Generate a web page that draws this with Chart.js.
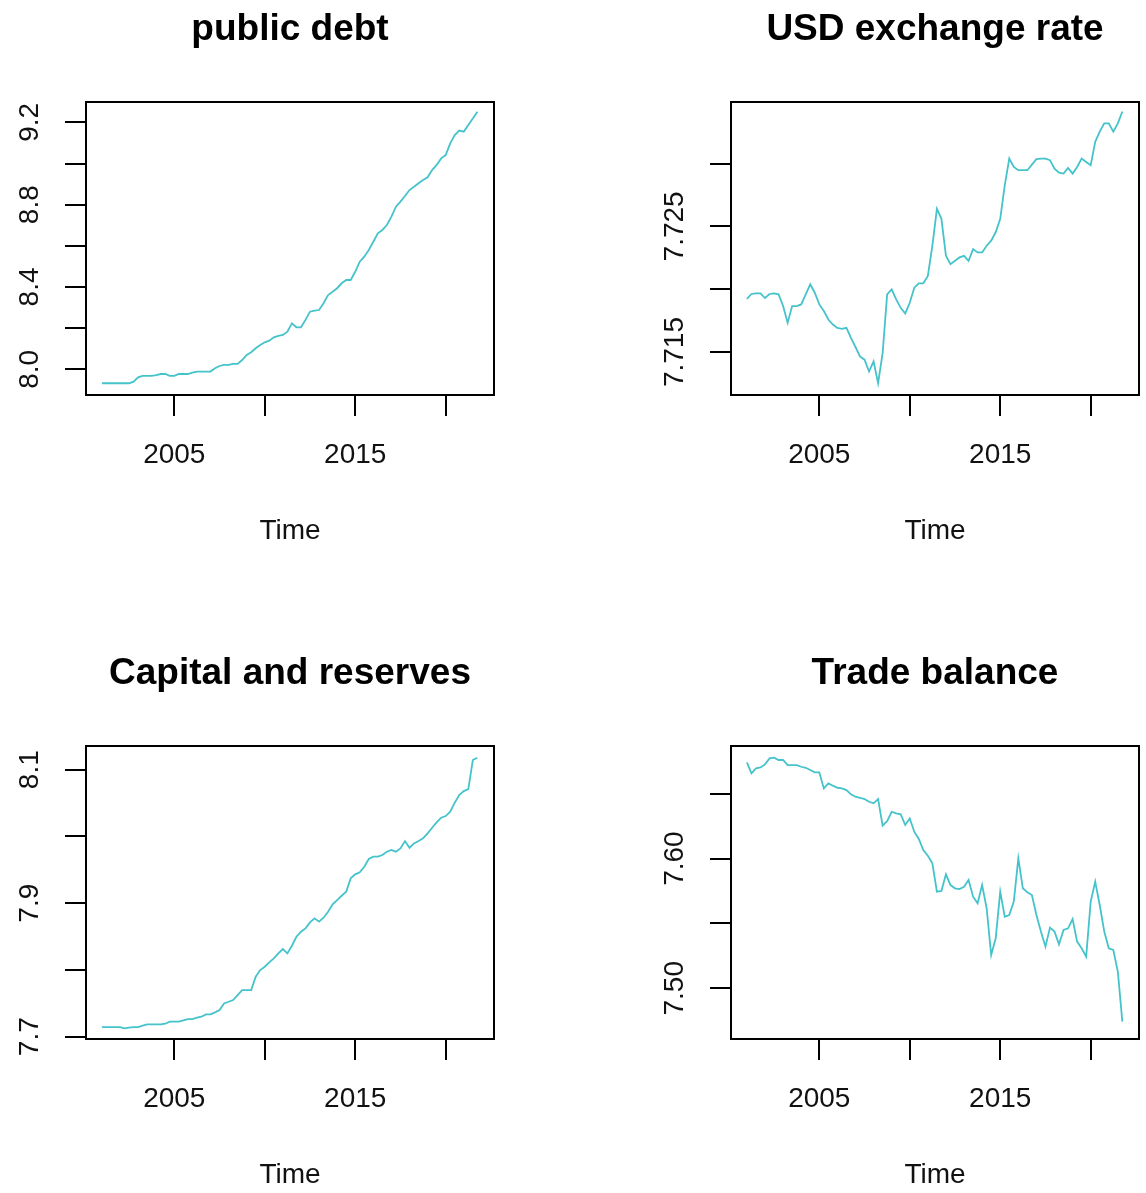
<!DOCTYPE html>
<html>
<head>
<meta charset="utf-8">
<title>Macro series</title>
<script src="https://cdn.jsdelivr.net/npm/chart.js@4.4.0/dist/chart.umd.min.js"></script>
<style>
  html, body { margin: 0; padding: 0; background: #fff; }
  #panels { position: relative; width: 1146px; height: 1193px; background: #fff; }
  .panel { position: absolute; width: 501px; height: 549px; }
</style>
</head>
<body>
<div id="panels">
  <div class="panel" style="left:0;top:0"><canvas id="debtChart" width="501" height="549"></canvas></div>
  <div class="panel" style="left:645px;top:0"><canvas id="usdChart" width="501" height="549"></canvas></div>
  <div class="panel" style="left:0;top:644px"><canvas id="capitalChart" width="501" height="549"></canvas></div>
  <div class="panel" style="left:645px;top:644px"><canvas id="tradeChart" width="501" height="549"></canvas></div>
</div>
<script>
// quarterly observations, 2001 Q1 .. 2021 Q4
const firstYear = 2001;
const lastYear = 2021;

const publicDebt = [
  7.932, 7.932, 7.932, 7.932,  7.932, 7.932, 7.932, 7.940,
  7.961, 7.968, 7.968, 7.968,  7.972, 7.977, 7.977, 7.968,
  7.968, 7.977, 7.977, 7.977,  7.984, 7.989, 7.989, 7.989,
  7.989, 8.005, 8.016, 8.021,  8.021, 8.026, 8.026, 8.045,
  8.070, 8.083, 8.102, 8.118,  8.131, 8.139, 8.155, 8.162,
  8.167, 8.183, 8.223, 8.204,  8.204, 8.240, 8.280, 8.285,
  8.288, 8.321, 8.361, 8.377,  8.394, 8.418, 8.434, 8.434,
  8.474, 8.523, 8.547, 8.580,  8.620, 8.661, 8.677, 8.701,
  8.742, 8.790, 8.815, 8.842,  8.871, 8.887, 8.904, 8.920,
  8.933, 8.968, 8.993, 9.025,  9.041, 9.098, 9.138, 9.160,
  9.155, 9.187, 9.219, 9.252
];

const usdRate = [
  7.71924, 7.71962, 7.71967, 7.71967,  7.71930, 7.71962, 7.71967, 7.71959,
  7.71866, 7.71732, 7.71866, 7.71866,  7.71879, 7.71959, 7.72039, 7.71972,
  7.71879, 7.71826, 7.71759, 7.71719,  7.71692, 7.71684, 7.71692, 7.71612,
  7.71540, 7.71465, 7.71439, 7.71345,  7.71425, 7.71252, 7.71492, 7.71959,
  7.71999, 7.71919, 7.71852, 7.71807,  7.71892, 7.72012, 7.72047, 7.72047,
  7.72106, 7.72346, 7.72640, 7.72560,  7.72266, 7.72199, 7.72226, 7.72253,
  7.72266, 7.72226, 7.72319, 7.72293,  7.72293, 7.72346, 7.72386, 7.72453,
  7.72560, 7.72827, 7.73040, 7.72973,  7.72947, 7.72947, 7.72947, 7.72992,
  7.73035, 7.73040, 7.73040, 7.73027,  7.72960, 7.72928, 7.72920, 7.72965,
  7.72920, 7.72973, 7.73040, 7.73013,  7.72987, 7.73173, 7.73254, 7.73320,
  7.73320, 7.73254, 7.73320, 7.73414
];

const capitalReserves = [
  7.7145, 7.7145, 7.7145, 7.7145,  7.7145, 7.7125, 7.7135, 7.7145,
  7.7145, 7.7165, 7.7185, 7.7185,  7.7185, 7.7185, 7.7195, 7.7225,
  7.7225, 7.7225, 7.7245, 7.7265,  7.7265, 7.7285, 7.7300, 7.7335,
  7.7335, 7.7365, 7.7400, 7.7499,  7.7524, 7.7549, 7.7624, 7.7699,
  7.7699, 7.7699, 7.7899, 7.7999,  7.8049, 7.8114, 7.8174, 7.8248,
  7.8313, 7.8248, 7.8363, 7.8498,  7.8573, 7.8623, 7.8713, 7.8773,
  7.8723, 7.8783, 7.8873, 7.8983,  7.9047, 7.9112, 7.9172, 7.9372,
  7.9432, 7.9462, 7.9547, 7.9662,  7.9697, 7.9697, 7.9722, 7.9772,
  7.9797, 7.9772, 7.9821, 7.9931,  7.9831, 7.9896, 7.9931, 7.9971,
  8.0046, 8.0131, 8.0211, 8.0281,  8.0306, 8.0371, 8.0506, 8.0620,
  8.0680, 8.0710, 8.1145, 8.1180
];

const tradeBalance = [
  7.6742, 7.6657, 7.6695, 7.6703,  7.6726, 7.6772, 7.6778, 7.6760,
  7.6760, 7.6721, 7.6721, 7.6721,  7.6708, 7.6700, 7.6683, 7.6665,
  7.6665, 7.6541, 7.6580, 7.6562,  7.6546, 7.6541, 7.6528, 7.6495,
  7.6477, 7.6469, 7.6459, 7.6438,  7.6426, 7.6459, 7.6254, 7.6289,
  7.6361, 7.6349, 7.6341, 7.6259,  7.6310, 7.6207, 7.6151, 7.6066,
  7.6022, 7.5963, 7.5745, 7.5750,  7.5879, 7.5796, 7.5771, 7.5765,
  7.5783, 7.5835, 7.5706, 7.5655,  7.5796, 7.5617, 7.5257, 7.5385,
  7.5745, 7.5552, 7.5565, 7.5668,  7.6002, 7.5771, 7.5740, 7.5719,
  7.5565, 7.5437, 7.5321, 7.5468,  7.5437, 7.5339, 7.5450, 7.5462,
  7.5534, 7.5360, 7.5308, 7.5244,  7.5668, 7.5822, 7.5642, 7.5437,
  7.5308, 7.5295, 7.5128, 7.4743
];

// tick labels that get printed (the rest are bare tick marks)
const timeTickLabels = ['2005', '2015'];
const debtTickLabels = ['8.0', '8.4', '8.8', '9.2'];
const usdTickLabels = ['7.715', '7.725'];
const capitalTickLabels = ['7.7', '7.9', '8.1'];
const tradeTickLabels = ['7.50', '7.60'];

const quarters = [];
for (let y = firstYear; y <= lastYear; y++) {
  for (let q = 0; q < 4; q++) quarters.push(y + q / 4);
}

const FONT = '"Liberation Sans", Arial, Helvetica, sans-serif';
const LINE_COLOR = '#45c3cb';
const INK = '#111';
const TICK_LEN = 21;
const LABEL_SIZE = 28;

Chart.defaults.font.family = FONT;
Chart.defaults.color = INK;

// plain box around the plotting region
const frameBox = {
  id: 'frameBox',
  afterDraw(chart) {
    const { ctx, chartArea: a } = chart;
    ctx.save();
    ctx.strokeStyle = '#000';
    ctx.lineWidth = 2;
    ctx.strokeRect(a.left, a.top, a.right - a.left, a.bottom - a.top);
    ctx.restore();
  }
};

const measureCtx = document.createElement('canvas').getContext('2d');
function labelWidth(labels) {
  measureCtx.font = 'normal ' + LABEL_SIZE + 'px ' + FONT;
  return Math.max(...labels.map(l => measureCtx.measureText(l).width));
}

function makePanel(id, title, values, yRange, yStep, yLabels, decimals) {
  // rotated y labels are centred 56px left of the box
  const yPad = 56 - TICK_LEN - labelWidth(yLabels) / 2;
  return new Chart(document.getElementById(id), {
    type: 'line',
    data: {
      datasets: [{
        data: quarters.map((t, i) => ({ x: t, y: values[i] })),
        borderColor: LINE_COLOR,
        borderWidth: 1.8,
        pointRadius: 0,
        tension: 0,
        fill: false
      }]
    },
    options: {
      responsive: false,
      animation: false,
      devicePixelRatio: 1,
      layout: { padding: { left: 0, right: 7, top: 0, bottom: 0 } },
      plugins: {
        legend: { display: false },
        tooltip: { enabled: false },
        title: {
          display: true,
          text: title,
          fullSize: false,
          color: '#000',
          font: { size: 37, weight: 'bold' },
          padding: { top: 8, bottom: 49.6 }
        }
      },
      scales: {
        x: {
          type: 'linear',
          min: 2000.12,
          max: 2022.67,
          afterFit: s => { s.height = 154; },
          border: { display: false },
          grid: {
            drawOnChartArea: false,
            drawTicks: true,
            tickLength: TICK_LEN,
            color: '#000',
            lineWidth: 2
          },
          ticks: {
            stepSize: 5,
            includeBounds: false,
            autoSkip: false,
            maxRotation: 0,
            padding: 22.5,
            color: INK,
            font: { size: LABEL_SIZE },
            callback: v => timeTickLabels.includes(String(v)) ? String(v) : ''
          },
          title: {
            display: true,
            text: 'Time',
            color: INK,
            font: { size: LABEL_SIZE },
            padding: { top: 0, bottom: 1 }
          }
        },
        y: {
          type: 'linear',
          min: yRange[0],
          max: yRange[1],
          afterFit: s => { s.width = 86; },
          border: { display: false },
          grid: {
            drawOnChartArea: false,
            drawTicks: true,
            tickLength: TICK_LEN,
            color: '#000',
            lineWidth: 2
          },
          ticks: {
            stepSize: yStep,
            includeBounds: false,
            autoSkip: false,
            minRotation: 90,
            maxRotation: 90,
            crossAlign: 'center',
            padding: yPad,
            color: INK,
            font: { size: LABEL_SIZE },
            callback: v => {
              const s = v.toFixed(decimals);
              return yLabels.includes(s) ? s : '';
            }
          }
        }
      }
    },
    plugins: [frameBox]
  });
}

makePanel('debtChart', 'public debt', publicDebt, [7.875, 9.299], 0.2, debtTickLabels, 1);
makePanel('usdChart', 'USD exchange rate', usdRate, [7.71158, 7.7349], 0.005, usdTickLabels, 3);
makePanel('capitalChart', 'Capital and reserves', capitalReserves, [7.6966, 8.1355], 0.1, capitalTickLabels, 1);
makePanel('tradeChart', 'Trade balance', tradeBalance, [7.4609, 7.6868], 0.05, tradeTickLabels, 2);
</script>
</body>
</html>
